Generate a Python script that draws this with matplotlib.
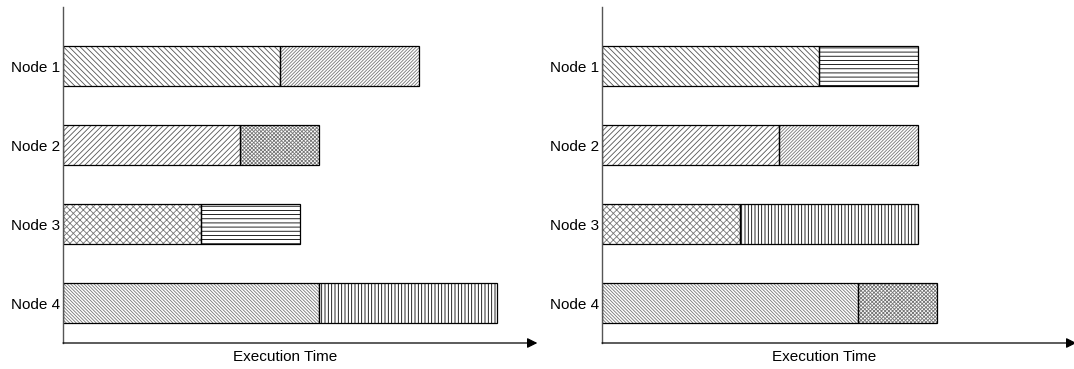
import matplotlib.pyplot as plt
import matplotlib as mpl

mpl.rcParams['font.family'] = ['Liberation Sans', 'DejaVu Sans']
mpl.rcParams['hatch.linewidth'] = 0.6

nodes = ["Node 1", "Node 2", "Node 3", "Node 4"]

# task durations (arbitrary time units)
first_tasks = [46.0, 37.5, 29.25, 54.25]
second_left = [29.5, 16.75, 21.0, 37.75]
second_right = [21.0, 29.5, 37.75, 16.75]

# hatch pattern and hatch colour for each task
hatch_first = [('\\' * 6, '#555555'), ('/' * 6, '#555555'),
               ('x' * 5, '#777777'), ('\\' * 10, '#777777')]
hatch_left = [('/' * 10, '#777777'), ('x' * 9, '#777777'),
              ('-' * 4, 'black'), ('|' * 5, 'black')]
hatch_right = [('-' * 4, 'black'), ('/' * 10, '#777777'),
               ('|' * 5, 'black'), ('x' * 9, '#777777')]

W, H = 1074, 369
fig = plt.figure(figsize=(W / 100, H / 100), dpi=100)


def panel(x0, second, hatches2):
    ax = fig.add_axes([x0 / W, (H - 343) / H, 472 / W, 336 / H])
    ax.set_xlim(0, 100)
    ax.set_ylim(4.506, 0.253)
    ys = range(1, 5)
    for y, a, b, h1, h2 in zip(ys, first_tasks, second, hatch_first, hatches2):
        ax.barh(y, a, height=0.506, left=0, color='white', edgecolor=h1[1],
                hatch=h1[0], linewidth=0)
        ax.barh(y, b, height=0.506, left=a, color='white', edgecolor=h2[1],
                hatch=h2[0], linewidth=0)
        ax.barh(y, a, height=0.506, left=0, fill=False, edgecolor='black', linewidth=0.9)
        ax.barh(y, b, height=0.506, left=a, fill=False, edgecolor='black', linewidth=0.9)
    ax.set_yticks(list(ys))
    ax.set_yticklabels(nodes, fontsize=11)
    ax.tick_params(axis='y', length=0, pad=2)
    ax.set_xticks([])
    for s in ['top', 'right', 'bottom']:
        ax.spines[s].set_visible(False)
    ax.spines['left'].set_color('#555555')
    ax.spines['left'].set_linewidth(1.0)
    ax.annotate('', xy=(1.005, 0), xycoords='axes fraction', xytext=(0, 0),
                arrowprops=dict(arrowstyle='-|>', color='black', lw=0.9,
                                mutation_scale=15, shrinkA=0, shrinkB=0))
    ax.set_xlabel("Execution Time", fontsize=11)
    ax.xaxis.set_label_coords(0.47, -0.022, transform=ax.transAxes)
    ax.xaxis.label.set_va('top')
    return ax


panel(63, second_left, hatch_left)
panel(602, second_right, hatch_right)

fig.savefig("out.png", dpi=100)
